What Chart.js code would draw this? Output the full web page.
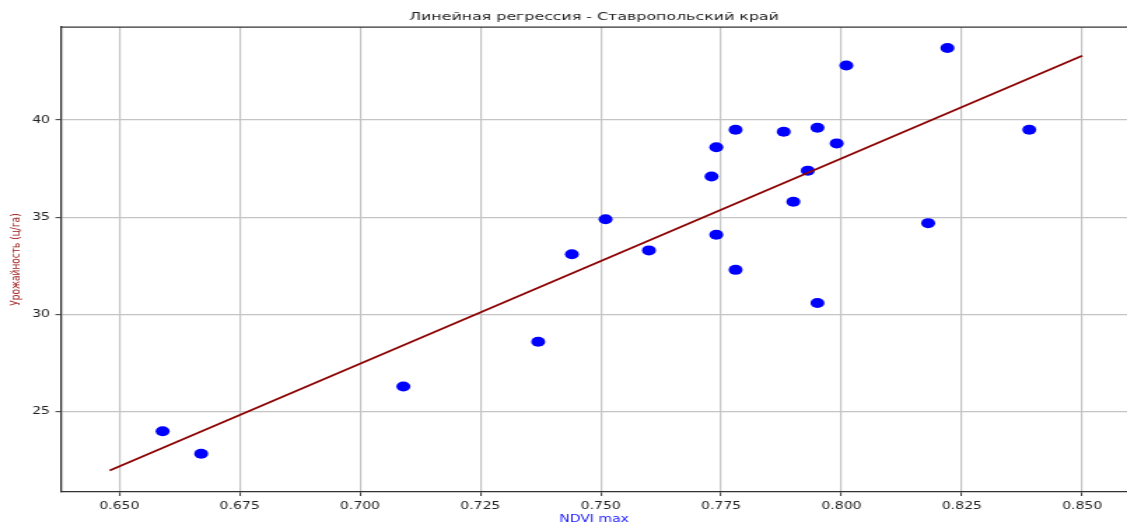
<!DOCTYPE html>
<html><head><meta charset="utf-8">
<script src="https://cdn.jsdelivr.net/npm/chart.js@4.4.1/dist/chart.umd.min.js"></script>
<style>
html,body{margin:0;padding:0;overflow:hidden;background:#fff}
#c{display:block;width:1127px !important;height:529px !important}
</style>
</head><body>
<canvas id="c" width="805" height="529" style="width:1127px;height:529px"></canvas>
<script>
const ndviMax = [0.659, 0.667, 0.709, 0.737, 0.744, 0.751, 0.760, 0.773, 0.774, 0.774, 0.778, 0.778, 0.788, 0.790, 0.793, 0.795, 0.795, 0.799, 0.801, 0.818, 0.822, 0.839];
const yieldVals = [24.0, 22.85, 26.3, 28.6, 33.1, 34.9, 33.3, 37.1, 38.6, 34.1, 39.5, 32.3, 39.4, 35.8, 37.4, 39.6, 30.6, 38.8, 42.8, 34.7, 43.7, 39.5];
const regLineX = [0.648, 0.850];
const regLineY = [21.98, 43.3];
const xTickVals = [0.650, 0.675, 0.700, 0.725, 0.750, 0.775, 0.800, 0.825, 0.850];
const yTickVals = [25, 30, 35, 40];

const FONT = "'DejaVu Sans', sans-serif";

const topSpine = {
  id: 'topSpine',
  afterDraw(chart) {
    const {ctx, chartArea} = chart;
    ctx.save();
    ctx.strokeStyle = '#333';
    ctx.lineWidth = 1.3;
    ctx.beginPath();
    ctx.moveTo(chartArea.left, chartArea.top);
    ctx.lineTo(chartArea.right, chartArea.top);
    ctx.stroke();
    ctx.restore();
  }
};

new Chart(document.getElementById('c'), {
  type: 'scatter',
  data: {
    datasets: [
      {
        label: 'regression',
        data: regLineX.map((x, i) => ({x, y: regLineY[i]})),
        showLine: true,
        borderColor: '#8b0000',
        borderWidth: 1.8,
        pointRadius: 0,
        fill: false
      },
      {
        label: 'data',
        data: ndviMax.map((x, i) => ({x, y: yieldVals[i]})),
        backgroundColor: '#0000ff',
        borderWidth: 0,
        pointRadius: 5,
        pointHoverRadius: 5
      }
    ]
  },
  options: {
    responsive: false,
    animation: false,
    layout: {padding: 0, autoPadding: false},
    plugins: {
      legend: {display: false},
      tooltip: {enabled: false},
      title: {
        display: true,
        fullSize: false,
        text: 'Линейная регрессия - Ставропольский край',
        color: '#222',
        font: {family: FONT, size: 11.3, weight: 'normal'},
        padding: {top: 10, bottom: 3.5}
      }
    },
    scales: {
      x: {
        type: 'linear',
        min: 0.6379,
        max: 0.8593,
        afterBuildTicks: s => { s.ticks = xTickVals.map(v => ({value: v})); },
        afterFit: s => { s.height = 37; s.paddingLeft = 0; s.paddingRight = 0; },
        ticks: {
          color: '#222',
          font: {family: FONT, size: 10},
          padding: 4,
          maxRotation: 0,
          callback: v => Number(v).toFixed(3)
        },
        grid: {color: '#c4c4c4', lineWidth: 1.2, tickColor: '#333', tickLength: 4, tickWidth: 1},
        border: {display: true, color: '#333', width: 1.3},
        title: {
          display: true,
          text: 'NDVI max',
          color: '#1a1aff',
          font: {family: FONT, size: 10},
          padding: {top: 0, bottom: 4}
        }
      },
      y: {
        type: 'linear',
        min: 20.88,
        max: 44.78,
        afterBuildTicks: s => { s.ticks = yTickVals.map(v => ({value: v})); },
        afterFit: s => { s.width = 43.6; s.paddingTop = 0; s.paddingBottom = 0; },
        ticks: {
          color: '#222',
          font: {family: FONT, size: 10},
          padding: 4,
          callback: v => String(v)
        },
        grid: {color: '#c4c4c4', lineWidth: 1.3, tickColor: '#333', tickLength: 4, tickWidth: 1},
        border: {display: true, color: '#333', width: 1.3},
        title: {
          display: true,
          text: 'Урожайность (ц/га)',
          color: '#a02020',
          font: {family: FONT, size: 9},
          padding: {top: 6, bottom: 0}
        }
      }
    }
  },
  plugins: [topSpine]
});
</script>
</body></html>
